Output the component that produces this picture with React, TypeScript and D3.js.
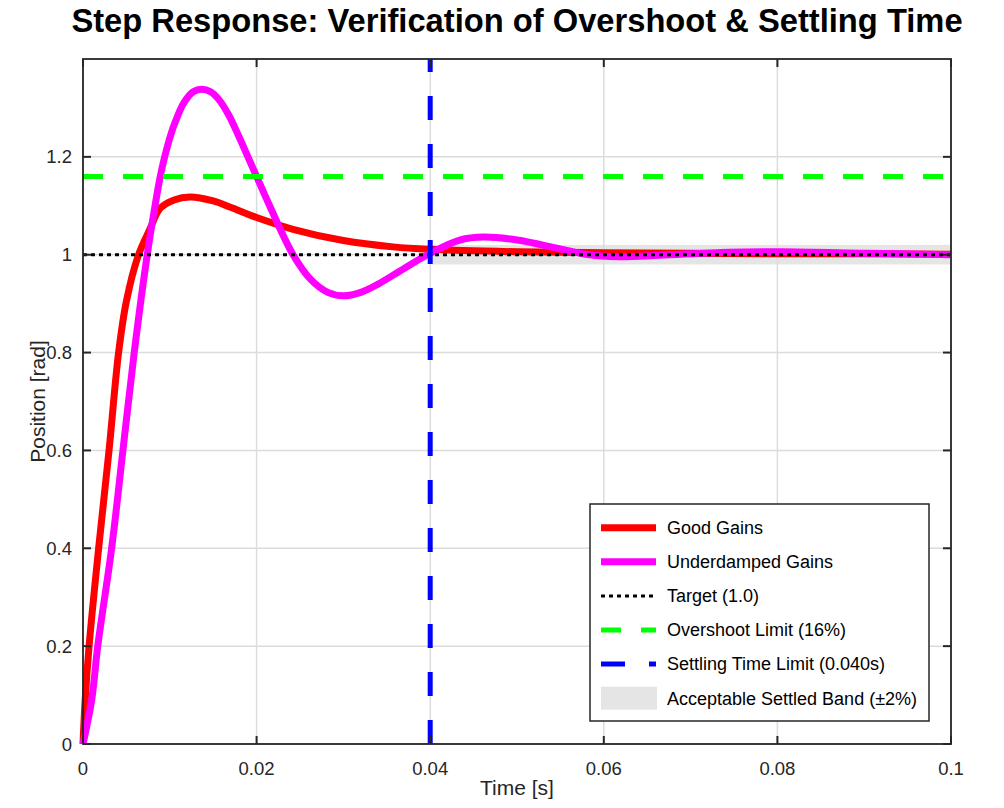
import React, { useRef, useEffect } from 'react';
import * as d3 from 'd3';

// Step response samples
const goodTime = [0, 0.00025, 0.0007, 0.0018, 0.003, 0.0041, 0.005, 0.0064, 0.0077, 0.0089, 0.0105, 0.0123, 0.015, 0.017, 0.02, 0.0242, 0.03, 0.0357, 0.04, 0.05, 0.06, 0.07, 0.08, 0.09, 0.1];
const goodPos = [0, 0.09, 0.2, 0.4, 0.6, 0.8, 0.905, 1.0, 1.052, 1.095, 1.112, 1.118, 1.11, 1.097, 1.076, 1.052, 1.029, 1.016, 1.011, 1.006, 1.004, 1.003, 1.002, 1.002, 1.001];

const underTime = [0, 0.001, 0.0017, 0.0033, 0.0046, 0.0059, 0.0074, 0.0083, 0.0089, 0.0097, 0.0106, 0.0116, 0.0127, 0.01367, 0.0147, 0.0157, 0.0168, 0.018, 0.019, 0.02, 0.0215, 0.0242, 0.0262, 0.0282, 0.03, 0.032, 0.034, 0.037, 0.04, 0.0434, 0.0462, 0.05, 0.0547, 0.0579, 0.0618, 0.0665, 0.0744, 0.0804, 0.0903, 0.1];
const underPos = [0, 0.09, 0.2, 0.4, 0.6, 0.8, 1.0, 1.1, 1.16, 1.22, 1.27, 1.31, 1.333, 1.338, 1.333, 1.316, 1.285, 1.24, 1.2, 1.16, 1.1, 1.0, 0.95, 0.923, 0.916, 0.923, 0.94, 0.972, 1.003, 1.03, 1.036, 1.03, 1.013, 1.001, 0.996, 0.999, 1.005, 1.006, 1.003, 1.0];

const targetValue = 1.0;
const overshootLimit = 1.16;
const settlingTime = 0.04;
const bandLow = 0.98;
const bandHigh = 1.02;

const xTicks = [0, 0.02, 0.04, 0.06, 0.08, 0.1];
const xTickLabels = ['0', '0.02', '0.04', '0.06', '0.08', '0.1'];
const yTicks = [0, 0.2, 0.4, 0.6, 0.8, 1, 1.2];
const yTickLabels = ['0', '0.2', '0.4', '0.6', '0.8', '1', '1.2'];

const legendLabels = ['Good Gains', 'Underdamped Gains', 'Target (1.0)', 'Overshoot Limit (16%)', 'Settling Time Limit (0.040s)', 'Acceptable Settled Band (±2%)'];

const width = 1004;
const height = 808;
const font = '"Liberation Sans", Arial, Helvetica, sans-serif';
const axisColor = '#262626';

const App: React.FC = () => {
  const svgRef = useRef<SVGSVGElement>(null);

  useEffect(() => {
    if (!svgRef.current) return;
    const svg = d3.select(svgRef.current);
    svg.selectAll('*').remove();

    const margin = { top: 59, right: 53, bottom: 64, left: 83 };
    const w = width - margin.left - margin.right;
    const h = height - margin.top - margin.bottom;

    const g = svg.append('g').attr('transform', `translate(${margin.left},${margin.top})`);

    const x = d3.scaleLinear().domain([0, 0.1]).range([0, w]);
    const y = d3.scaleLinear().domain([0, 1.4]).range([h, 0]);

    // settled band
    g.append('rect')
      .attr('x', x(settlingTime))
      .attr('y', y(bandHigh))
      .attr('width', x(0.1) - x(settlingTime))
      .attr('height', y(bandLow) - y(bandHigh))
      .attr('fill', '#e5e5e5');

    // grid
    xTicks.forEach(t => {
      g.append('line')
        .attr('x1', x(t)).attr('x2', x(t)).attr('y1', 0).attr('y2', h)
        .attr('stroke', '#dcdcdc').attr('stroke-width', 1.5);
    });
    yTicks.forEach(v => {
      g.append('line')
        .attr('x1', 0).attr('x2', w).attr('y1', y(v)).attr('y2', y(v))
        .attr('stroke', '#dcdcdc').attr('stroke-width', 1.5);
    });

    const line = d3.line<[number, number]>()
      .x(d => x(d[0]))
      .y(d => y(d[1]))
      .curve(d3.curveCatmullRom.alpha(0.5));

    const goodData = goodTime.map((t, i) => [t, goodPos[i]] as [number, number]);
    const underData = underTime.map((t, i) => [t, underPos[i]] as [number, number]);

    g.append('path')
      .attr('d', line(goodData))
      .attr('fill', 'none')
      .attr('stroke', '#ff0000')
      .attr('stroke-width', 7)
      .attr('stroke-linejoin', 'round');

    g.append('path')
      .attr('d', line(underData))
      .attr('fill', 'none')
      .attr('stroke', '#ff00ff')
      .attr('stroke-width', 7)
      .attr('stroke-linejoin', 'round');

    // target line
    g.append('line')
      .attr('x1', 0).attr('x2', w).attr('y1', y(targetValue)).attr('y2', y(targetValue))
      .attr('stroke', '#000').attr('stroke-width', 3).attr('stroke-dasharray', '4,4');

    // overshoot limit
    g.append('line')
      .attr('x1', 0).attr('x2', w).attr('y1', y(overshootLimit)).attr('y2', y(overshootLimit))
      .attr('stroke', '#00ff00').attr('stroke-width', 5).attr('stroke-dasharray', '20,20');

    // settling time limit, drawn bottom-up
    g.append('line')
      .attr('x1', x(settlingTime)).attr('x2', x(settlingTime)).attr('y1', h).attr('y2', 0)
      .attr('stroke', '#0000ff').attr('stroke-width', 5).attr('stroke-dasharray', '24,24');

    // axes box
    g.append('rect')
      .attr('x', 0).attr('y', 0).attr('width', w).attr('height', h)
      .attr('fill', 'none').attr('stroke', axisColor).attr('stroke-width', 1.8);

    const tl = 8;
    xTicks.forEach((t, i) => {
      g.append('line').attr('x1', x(t)).attr('x2', x(t)).attr('y1', h).attr('y2', h - tl)
        .attr('stroke', axisColor).attr('stroke-width', 2);
      g.append('line').attr('x1', x(t)).attr('x2', x(t)).attr('y1', 0).attr('y2', tl)
        .attr('stroke', axisColor).attr('stroke-width', 2);
      g.append('text')
        .attr('x', x(t)).attr('y', h + 30.5)
        .attr('text-anchor', 'middle')
        .attr('font-family', font).attr('font-size', '18.5px').attr('fill', axisColor)
        .text(xTickLabels[i]);
    });
    yTicks.forEach((v, i) => {
      g.append('line').attr('x1', 0).attr('x2', tl).attr('y1', y(v)).attr('y2', y(v))
        .attr('stroke', axisColor).attr('stroke-width', 2);
      g.append('line').attr('x1', w).attr('x2', w - tl).attr('y1', y(v)).attr('y2', y(v))
        .attr('stroke', axisColor).attr('stroke-width', 2);
      g.append('text')
        .attr('x', -11).attr('y', y(v) + 6.5)
        .attr('text-anchor', 'end')
        .attr('font-family', font).attr('font-size', '18.5px').attr('fill', axisColor)
        .text(yTickLabels[i]);
    });

    // axis labels
    svg.append('text')
      .attr('x', margin.left + w / 2).attr('y', 795)
      .attr('text-anchor', 'middle')
      .attr('font-family', font).attr('font-size', '21px').attr('fill', axisColor)
      .text('Time [s]');

    svg.append('text')
      .attr('transform', `translate(45,${margin.top + h / 2}) rotate(-90)`)
      .attr('text-anchor', 'middle')
      .attr('font-family', font).attr('font-size', '21px').attr('fill', axisColor)
      .text('Position [rad]');

    // title
    svg.append('text')
      .attr('x', 517).attr('y', 32)
      .attr('text-anchor', 'middle')
      .attr('font-family', font).attr('font-size', '32.7px').attr('font-weight', 700)
      .attr('fill', '#000')
      .text('Step Response: Verification of Overshoot & Settling Time');

    // legend
    const legend = svg.append('g').attr('transform', 'translate(590,504)');
    legend.append('rect')
      .attr('x', 0).attr('y', 0).attr('width', 339).attr('height', 217)
      .attr('fill', '#fff').attr('stroke', axisColor).attr('stroke-width', 1.5);

    const styles = [
      { color: '#ff0000', width: 7, dash: null as string | null, band: false },
      { color: '#ff00ff', width: 7, dash: null, band: false },
      { color: '#000000', width: 3, dash: '4,4', band: false },
      { color: '#00ff00', width: 5, dash: '20,20', band: false },
      { color: '#0000ff', width: 5, dash: '24,24', band: false },
      { color: '#e5e5e5', width: 0, dash: null, band: true },
    ];

    legendLabels.forEach((label, i) => {
      const cy = 23.7 + i * 34.1;
      const s = styles[i];
      if (s.band) {
        legend.append('rect')
          .attr('x', 11).attr('y', cy - 11.5).attr('width', 56).attr('height', 23)
          .attr('fill', s.color);
      } else {
        const ln = legend.append('line')
          .attr('x1', 11).attr('x2', 66).attr('y1', cy).attr('y2', cy)
          .attr('stroke', s.color).attr('stroke-width', s.width);
        if (s.dash) ln.attr('stroke-dasharray', s.dash);
      }
      legend.append('text')
        .attr('x', 77).attr('y', cy + 6.3)
        .attr('font-family', font).attr('font-size', '18px').attr('fill', '#000')
        .text(label);
    });
  }, []);

  return (
    <svg
      ref={svgRef}
      width={width}
      height={height}
      style={{ position: 'absolute', left: 0, top: 0, background: '#fff' }}
    />
  );
};

export default App;
